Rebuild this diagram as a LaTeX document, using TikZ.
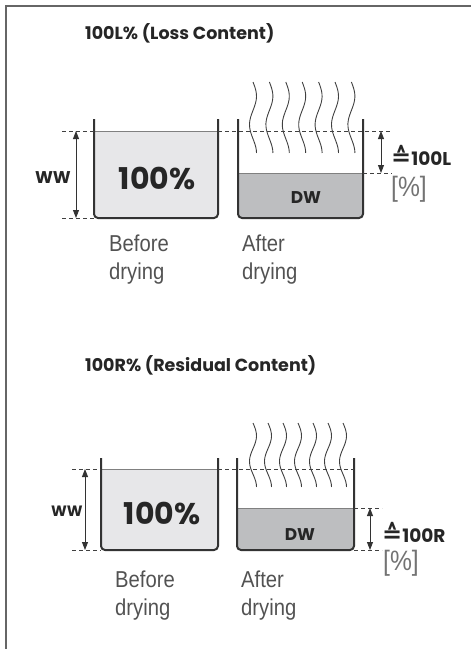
\documentclass[tikz,border=0pt]{standalone}
\usepackage{fontspec}
\setmainfont{Liberation Sans}[FakeStretch=0.88]
\newfontfamily\headfont{Poppins}
\newfontfamily\symfont{DejaVu Sans}
\usetikzlibrary{arrows.meta}
\definecolor{wetgray}{HTML}{E7E7E9}
\definecolor{drygray}{HTML}{BDBEC0}
\tikzset{
  frame/.style={draw=black!60, line width=1.5pt},
  beaker/.style={draw=black!80, line width=2pt, rounded corners=4pt},
  levelline/.style={draw=black!50, line width=1pt},
  guide/.style={draw=black!75, line width=0.8pt, dash pattern=on 4pt off 3pt},
  dim/.style={draw=black!80, line width=0.9pt,
    {Triangle[length=8pt,width=6pt]}-{Triangle[length=8pt,width=6pt]}},
  steam/.style={draw=black!75, line width=0.9pt},
  headtxt/.style={font=\headfont\bfseries\fontsize{17.5}{19}\selectfont, anchor=west, text=black!85, inner sep=0pt},
  bigtxt/.style={font=\headfont\bfseries\fontsize{30}{32}\selectfont, text=black!85, inner sep=0pt},
  tagtxt/.style={font=\headfont\bfseries\fontsize{17}{19}\selectfont, text=black!85, inner sep=0pt},
  ratiotxt/.style={font=\headfont\bfseries\fontsize{18.5}{20}\selectfont, text=black!85, anchor=west, inner sep=0pt},
  captxt/.style={font=\fontsize{23}{28}\selectfont, text=black!68, align=left, anchor=base west, inner sep=0pt},
  unittxt/.style={font=\fontsize{28}{30}\selectfont, text=black!55, anchor=west, inner sep=0pt},
}
\newcommand{\corresp}{{\symfont\fontsize{24}{24}\selectfont ≙}}

\begin{document}
\begin{tikzpicture}[x=1pt, y=-1pt]
  \useasboundingbox (0,0) rectangle (471,649);
  \draw[frame] (471,6) -- (6,6) -- (6,649);

  % ---- 100L% (loss content) ----
  \node[headtxt] (lossTitle) at (85,33) {100L\% (Loss Content)};

  % before drying
  \fill[wetgray] (94,131) [rounded corners=4pt] -- (94,218) -- (218,218) [sharp corners] -- (218,131) -- cycle;
  \draw[levelline] (94,131) -- (218,131);
  \draw[beaker] (94,119) -- (94,218) -- (218,218) -- (218,119);
  \node[bigtxt] (lossWet) at (157,178) {100\%};

  % after drying
  \fill[drygray] (238,173) [rounded corners=4pt] -- (238,218) -- (363,218) [sharp corners] -- (363,173) -- cycle;
  \draw[levelline] (238,173) -- (363,173);
  \draw[beaker] (238,119) -- (238,218) -- (363,218) -- (363,119);
  \node[tagtxt] (lossDry) at (306,198) {DW};
  \foreach \i in {0,...,6}
    \draw[steam] plot[smooth, domain=0:1, samples=25]
      ({253+16.4*\i+3.5*sin(450*\x)}, {82+71*\x});

  % guides and dimensions
  \coordinate (lossTopL) at (62,131);
  \coordinate (lossBotL) at (62,218);
  \coordinate (lossTopR) at (392,131);
  \coordinate (lossMidR) at (392,173);
  \draw[guide] (lossTopL) -- (94,131);
  \draw[guide] (218,131) -- (lossTopR);
  \draw[guide] (lossBotL) -- (94,218);
  \draw[guide] (363,173) -- (lossMidR);
  \coordinate (lossWWa) at (76,131);
  \coordinate (lossWWb) at (76,218);
  \draw[dim] (lossWWa) -- (lossWWb);
  \node[tagtxt] (lossWW) at (53,178) {WW};
  \coordinate (lossLa) at (381,131);
  \coordinate (lossLb) at (381,173);
  \draw[dim] (lossLa) -- (lossLb);
  \node[ratiotxt] (lossTag) at (391,155) {\corresp100L};
  \node[unittxt] (lossUnit) at (391,189) {[\%]};

  \node[captxt] (lossBefore) at (109,279) {Before\\drying};
  \node[captxt] (lossAfter) at (242,279) {After\\drying};

  % ---- 100R% (residual content) ----
  \node[headtxt] (resTitle) at (85,365) {100R\% (Residual Content)};

  % before drying
  \fill[wetgray] (101,469) [rounded corners=4pt] -- (101,550) -- (218,550) [sharp corners] -- (218,469) -- cycle;
  \draw[levelline] (101,469) -- (218,469);
  \draw[beaker] (101,458) -- (101,550) -- (218,550) -- (218,458);
  \node[bigtxt] (resWet) at (162,513) {100\%};

  % after drying
  \fill[drygray] (237,508) [rounded corners=4pt] -- (237,550) -- (354,550) [sharp corners] -- (354,508) -- cycle;
  \draw[levelline] (237,508) -- (354,508);
  \draw[beaker] (237,458) -- (237,550) -- (354,550) -- (354,458);
  \node[tagtxt] (resDry) at (300,535) {DW};
  \foreach \i in {0,...,6}
    \draw[steam] plot[smooth, domain=0:1, samples=25]
      ({253+15*\i+3.5*sin(450*\x)}, {423+64*\x});

  % guides and dimensions
  \coordinate (resTopL) at (72,469);
  \coordinate (resBotL) at (72,550);
  \coordinate (resTopR) at (354,469);
  \coordinate (resMidR) at (382,508);
  \coordinate (resBotR) at (382,550);
  \draw[guide] (resTopL) -- (101,469);
  \draw[guide] (218,469) -- (resTopR);
  \draw[guide] (resBotL) -- (101,550);
  \draw[guide] (354,508) -- (resMidR);
  \draw[guide] (354,550) -- (resBotR);
  \coordinate (resWWa) at (85,469);
  \coordinate (resWWb) at (85,550);
  \draw[dim] (resWWa) -- (resWWb);
  \node[tagtxt, font=\headfont\bfseries\fontsize{15}{17}\selectfont] (resWW) at (67,511) {WW};
  \coordinate (resRa) at (370,508);
  \coordinate (resRb) at (370,550);
  \draw[dim] (resRa) -- (resRb);
  \node[ratiotxt] (resTag) at (382,532) {\corresp100R};
  \node[unittxt] (resUnit) at (383,563) {[\%]};

  \node[captxt] (resBefore) at (115,615) {Before\\drying};
  \node[captxt] (resAfter) at (241,615) {After\\drying};
\end{tikzpicture}
\end{document}
